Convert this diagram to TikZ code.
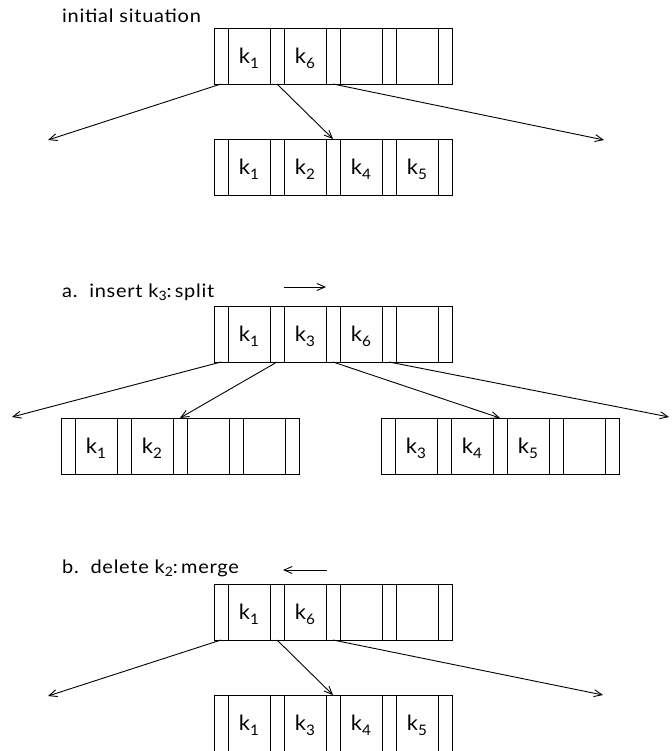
\documentclass[tikz,border=0pt]{standalone}
\usepackage{fontspec}
\setmainfont{Lato}[FakeStretch=1.08, LetterSpace=4]
\newfontfamily\cellfont{Lato}[FakeStretch=1.05]
\usetikzlibrary{arrows.meta}
\newcommand{\kk}[1]{k\smash{\raisebox{-5pt}{\fontsize{14.5}{14.5}\selectfont #1}}}
\newcommand{\kl}[1]{k\smash{\raisebox{-3.5pt}{\fontsize{13}{13}\selectfont #1}}}
\newcommand{\btree}[7]{%
  \node[ptr, anchor=north west] (#1-p0) at (#2,#3) {};
  \node[key, anchor=north west] (#1-k1) at (#1-p0.north east) {#4};
  \node[ptr, anchor=north west] (#1-p1) at (#1-k1.north east) {};
  \node[key, anchor=north west] (#1-k2) at (#1-p1.north east) {#5};
  \node[ptr, anchor=north west] (#1-p2) at (#1-k2.north east) {};
  \node[key, anchor=north west] (#1-k3) at (#1-p2.north east) {#6};
  \node[ptr, anchor=north west] (#1-p3) at (#1-k3.north east) {};
  \node[key, anchor=north west] (#1-k4) at (#1-p3.north east) {#7};
  \node[ptr, anchor=north west] (#1-p4) at (#1-k4.north east) {};
}
\tikzset{
  cell/.style={draw, line width=0.9pt, minimum height=56pt, inner sep=0pt, outer sep=0pt,
    font=\cellfont\fontsize{21}{21}\selectfont},
  ptr/.style={cell, minimum width=14pt},
  key/.style={cell, minimum width=42pt},
  link/.style={line width=0.9pt, -{Straight Barb[length=8pt,width=7pt]}},
  lbl/.style={anchor=base west, inner sep=0pt, font=\fontsize{18.5}{20}\selectfont},
}
\begin{document}
\begin{tikzpicture}[x=1pt,y=-1pt]
\useasboundingbox (0,0) rectangle (671,751);
\clip (0,0) rectangle (671,751);
% initial situation
\node[lbl] (l0) at (62,23) {initial situation};
\btree{it}{214}{28}{\kk{1}}{\kk{6}}{}{}
\btree{ib}{214}{139}{\kk{1}}{\kk{2}}{\kk{4}}{\kk{5}}
\coordinate (iL) at (48,140);
\coordinate (iR) at (604,140);
\draw[link] (it-p0.south) -- (iL);
\draw[link] (it-p1.south) -- (ib-p2.north);
\draw[link] (it-p2.south) -- (iR);
% a. insert
\node[lbl] (la) at (62,297) {a.\ \ insert \kl{3}:\,split};
\coordinate (a1) at (284,287);
\coordinate (a2) at (326,287);
\draw[link] (a1) -- (a2);
\btree{at}{214}{306}{\kk{1}}{\kk{3}}{\kk{6}}{}
\btree{al}{61}{418}{\kk{1}}{\kk{2}}{}{}
\btree{ar}{381}{418}{\kk{3}}{\kk{4}}{\kk{5}}{}
\coordinate (aL) at (12,417);
\coordinate (aR) at (669,417);
\draw[link] (at-p0.south) -- (aL);
\draw[link] (at-p1.south) -- (al-p2.north);
\draw[link] (at-p2.south) -- (ar-p2.north);
\draw[link] (at-p3.south) -- (aR);
% b. delete
\node[lbl] (lb) at (62,573) {b.\ \ delete \kl{2}:\,merge};
\coordinate (b1) at (327,570);
\coordinate (b2) at (283,570);
\draw[link] (b1) -- (b2);
\btree{bt}{214}{584}{\kk{1}}{\kk{6}}{}{}
\btree{bb}{214}{695}{\kk{1}}{\kk{3}}{\kk{4}}{\kk{5}}
\coordinate (bL) at (48,696);
\coordinate (bR) at (603,695);
\draw[link] (bt-p0.south) -- (bL);
\draw[link] (bt-p1.south) -- (bb-p2.north);
\draw[link] (bt-p2.south) -- (bR);
\end{tikzpicture}
\end{document}
